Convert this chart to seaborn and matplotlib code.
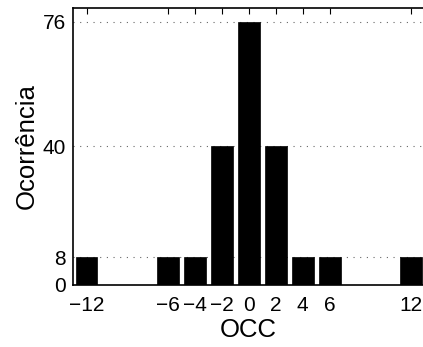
import numpy as np
import pandas as pd
import matplotlib
matplotlib.use("Agg")
import matplotlib.pyplot as plt
import seaborn as sns

# data
occ = [-12, -6, -4, -2, 0, 2, 4, 6, 12]
ocorrencia = [8, 8, 8, 40, 76, 40, 8, 8, 8]
xticks = [-12, -6, -4, -2, 0, 2, 4, 6, 12]
yticks = [0, 8, 40, 76]

df = pd.DataFrame({"OCC": occ, "Ocorrencia": ocorrencia})

sns.set_style("white")
plt.rcParams["font.family"] = ["Liberation Sans", "DejaVu Sans"]
plt.rcParams["text.color"] = "black"
plt.rcParams["axes.labelcolor"] = "black"

fig = plt.figure(figsize=(4.23, 3.47), dpi=100)
ax = fig.add_axes([0.173, 0.179, 0.83, 0.798])

sns.barplot(
    data=df, x="OCC", y="Ocorrencia",
    native_scale=True, width=0.8,
    color="black", saturation=1, edgecolor="black", linewidth=0.5,
    ax=ax
)

ax.set_xlim(-13, 13)
ax.set_ylim(0, 80)
ax.set_xticks(xticks)
ax.set_xticklabels(["\u2212" + str(-t) if t < 0 else str(t) for t in xticks])
ax.set_yticks(yticks)

ax.yaxis.grid(True, linestyle=(0, (1, 5)), color="black", linewidth=0.8, alpha=0.6)
ax.set_axisbelow(True)

for s in ax.spines.values():
    s.set_visible(True)
    s.set_color("black")
    s.set_linewidth(1.2)

ax.tick_params(axis="both", direction="in", length=4, width=0.8,
               top=True, right=True, labelsize=15, colors="black")
ax.tick_params(axis="x", pad=8)
ax.tick_params(axis="y", length=0, pad=5)
ax.set_xlabel("OCC", fontsize=18.5, labelpad=2)
ax.set_ylabel("Ocorrência", fontsize=18.5, labelpad=3)

fig.savefig("out.png", dpi=100)
